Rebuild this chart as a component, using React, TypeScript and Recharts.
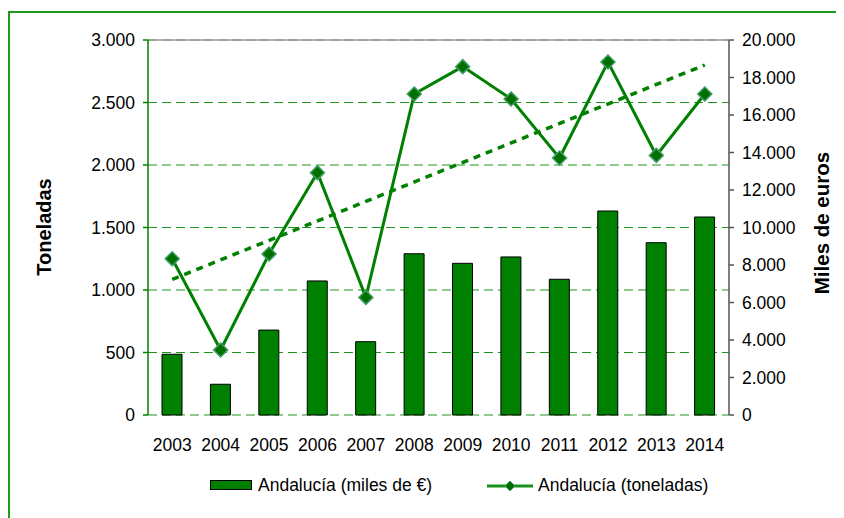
import { ComposedChart, Bar, Line, XAxis, YAxis, CartesianGrid, ReferenceLine } from "recharts";

const years = ["2003", "2004", "2005", "2006", "2007", "2008", "2009", "2010", "2011", "2012", "2013", "2014"];
// bars, right axis (miles de €)
const milesEuros = [3240, 1640, 4530, 7150, 3910, 8600, 8090, 8430, 7240, 10880, 9190, 10560];
// line, left axis (toneladas)
const toneladas = [1250, 520, 1288, 1939, 941, 2568, 2787, 2528, 2056, 2824, 2077, 2568];
// linear trend of toneladas, read at the two ends
const trend = [1085, null, null, null, null, null, null, null, null, null, null, 2800];

const leftTicks = [0, 500, 1000, 1500, 2000, 2500, 3000];
const rightTicks = [0, 2000, 4000, 6000, 8000, 10000, 12000, 14000, 16000, 18000, 20000];
const edgeTicks = [0, 1, 2, 3, 4, 5, 6, 7, 8, 9, 10, 11, 12];

const data = years.map((year, i) => ({
  year,
  euros: milesEuros[i],
  tons: toneladas[i],
  trend: trend[i],
}));

const FONT = "'Liberation Sans', Arial, sans-serif";
const GREEN = "#008000";

const fmt = (v: number) => String(v).replace(/\B(?=(\d{3})+(?!\d))/g, ".");

const Diamond = (props: any) => {
  const { cx, cy } = props;
  if (cx == null || cy == null) return null;
  const r = 7;
  return (
    <polygon
      points={`${cx},${cy - r} ${cx + r},${cy} ${cx},${cy + r} ${cx - r},${cy}`}
      fill="#006f00"
      stroke="#3f9c66"
      strokeWidth={1.5}
    />
  );
};

const tickStyle = { fontSize: 17.5, fill: "#000", fontFamily: FONT };

export default function App() {
  return (
    <div style={{ position: "relative", width: 836, height: 510, overflow: "hidden", background: "#fff", fontFamily: FONT }}>
      <div
        style={{
          position: "absolute",
          left: 0,
          top: 3,
          width: 900,
          height: 600,
          border: "2px solid #1f9a1f",
          boxSizing: "border-box",
        }}
      />
      <ComposedChart width={836} height={510} data={data} margin={{ top: 32, right: 0, bottom: 63, left: 0 }}>
        <CartesianGrid
          xAxisId="cat"
          yAxisId="left"
          vertical={false}
          stroke="#1c961c"
          strokeDasharray="9 5"
        />
        <XAxis
          xAxisId="edge"
          type="number"
          domain={[0, 12]}
          ticks={edgeTicks}
          allowDataOverflow
          height={0}
          tick={() => <g />}
          tickSize={5}
          axisLine={{ stroke: "#3a9e3a", strokeWidth: 1.5 }}
          tickLine={{ stroke: "#3a9e3a", strokeWidth: 1.5 }}
        />
        <XAxis
          xAxisId="cat"
          dataKey="year"
          axisLine={false}
          tickLine={false}
          tickMargin={18}
          height={40}
          interval={0}
          tick={tickStyle}
        />
        <YAxis
          yAxisId="left"
          width={140}
          domain={[0, 3000]}
          ticks={leftTicks}
          tickFormatter={fmt}
          tickSize={5}
          tickMargin={8}
          axisLine={{ stroke: GREEN, strokeWidth: 1.5 }}
          tickLine={{ stroke: GREEN, strokeWidth: 1.5 }}
          tick={tickStyle}
        />
        <YAxis
          yAxisId="right"
          orientation="right"
          width={115}
          domain={[0, 20000]}
          ticks={rightTicks}
          tickFormatter={fmt}
          tickSize={5}
          tickMargin={8}
          axisLine={{ stroke: "#555", strokeWidth: 1.5 }}
          tickLine={{ stroke: "#555", strokeWidth: 1.5 }}
          tick={tickStyle}
        />
        <ReferenceLine xAxisId="cat" yAxisId="left" y={3000} stroke="#9a9a9a" strokeWidth={1.5} />
        <Bar
          xAxisId="cat"
          yAxisId="right"
          dataKey="euros"
          barSize={20}
          fill={GREEN}
          stroke="#000"
          strokeWidth={1}
          isAnimationActive={false}
        />
        <Line
          xAxisId="cat"
          yAxisId="left"
          dataKey="trend"
          connectNulls
          stroke={GREEN}
          strokeWidth={3.5}
          strokeDasharray="7 6"
          dot={false}
          activeDot={false}
          isAnimationActive={false}
        />
        <Line
          xAxisId="cat"
          yAxisId="left"
          dataKey="tons"
          stroke={GREEN}
          strokeWidth={3}
          dot={<Diamond />}
          activeDot={false}
          isAnimationActive={false}
        />
      </ComposedChart>

      <div
        style={{
          position: "absolute",
          left: 36,
          top: 219,
          transform: "translate(-50%, -50%) rotate(-90deg)",
          whiteSpace: "nowrap",
          fontWeight: "bold",
          fontSize: 20,
        }}
      >
        Toneladas
      </div>
      <div
        style={{
          position: "absolute",
          left: 814,
          top: 215,
          transform: "translate(-50%, -50%) rotate(-90deg)",
          whiteSpace: "nowrap",
          fontWeight: "bold",
          fontSize: 20.5,
        }}
      >
        Miles de euros
      </div>

      <div style={{ position: "absolute", left: 202, top: 472, width: 42, height: 10, boxSizing: "border-box", background: GREEN, border: "1px solid #000" }} />
      <div style={{ position: "absolute", left: 250, top: 477, fontSize: 17.5, lineHeight: "1px", whiteSpace: "nowrap" }}>
        Andalucía (miles de €)
      </div>
      <svg style={{ position: "absolute", left: 479, top: 470 }} width={48} height={16}>
        <line x1={0} y1={8} x2={46} y2={8} stroke="#1a8f1a" strokeWidth={3} />
        <polygon points="23,3 28,8 23,13 18,8" fill="#006f00" stroke="#3f9c66" strokeWidth={1} />
      </svg>
      <div style={{ position: "absolute", left: 530, top: 477, fontSize: 17.5, lineHeight: "1px", whiteSpace: "nowrap" }}>
        Andalucía (toneladas)
      </div>
    </div>
  );
}
